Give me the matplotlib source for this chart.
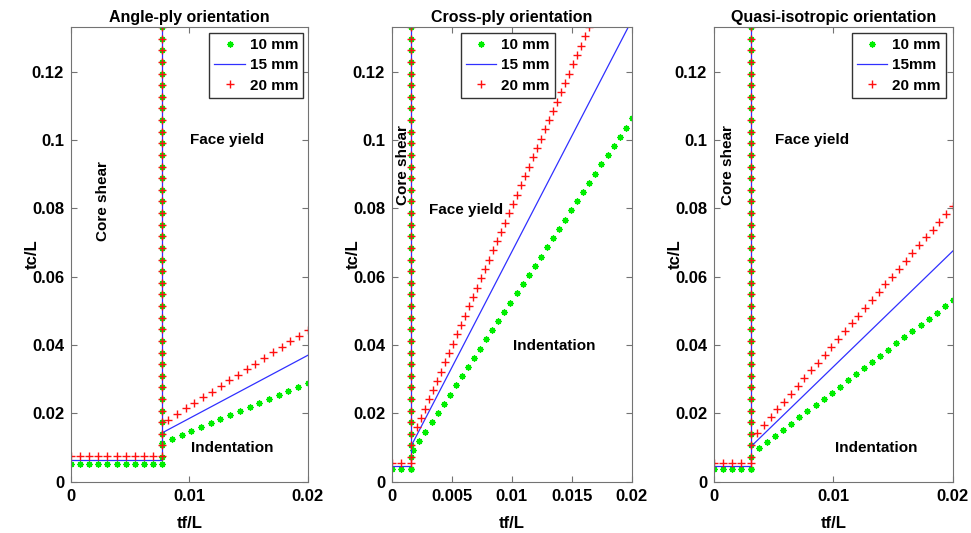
import numpy as np
import matplotlib
matplotlib.use('Agg')
import matplotlib.pyplot as plt

plt.rcParams.update({'font.family': 'Liberation Sans', 'font.weight': 'bold',
                     'font.size': 12})

# axis ranges
y_top = 0.133
x_max = 0.02
v_step = 0.0034  # marker spacing along the vertical boundary

titles = ['Angle-ply orientation', 'Cross-ply orientation', 'Quasi-isotropic orientation']
legend_labels = [['10 mm', '15 mm', '20 mm'], ['10 mm', '15 mm', '20 mm'], ['10 mm', '15mm', '20 mm']]
x_ticks = [[0, 0.01, 0.02], [0, 0.005, 0.01, 0.015, 0.02], [0, 0.01, 0.02]]
x_ticklabels = [['0', '0.01', '0.02'], ['0', '0.005', '0.01', '0.015', '0.02'], ['0', '0.01', '0.02']]
y_ticks = [0, 0.02, 0.04, 0.06, 0.08, 0.1, 0.12]
y_ticklabels = ['0', '0.02', '0.04', '0.06', '0.08', '0.1', '0.12']

# core shear / face yield boundary (tf/L)
x_vert = [0.0077, 0.00156, 0.00307]

# core shear plateau level (tc/L) for 10, 15, 20 mm
h_10 = [0.0051, 0.0036, 0.0036]
h_15 = [0.0063, 0.0046, 0.0046]
h_20 = [0.0076, 0.0056, 0.0056]
n_flat = [11, 3, 5]

# indentation / face yield boundary: start and end points, marker count
slope_10 = [[(0.0077, 0.0112), (0.02, 0.029)],
            [(0.00178, 0.0093), (0.02, 0.1063)],
            [(0.00377, 0.0098), (0.02, 0.0531)]]
n_slope_10 = [16, 37, 25]
slope_15 = [[(0.0077, 0.0143), (0.02, 0.037)],
            [(0.00156, 0.0102), (0.02, 0.135)],
            [(0.00307, 0.0102), (0.02, 0.0675)]]
slope_20 = [[(0.0082, 0.0182), (0.02, 0.0444)],
            [(0.00206, 0.0159), (0.0164, 0.133)],
            [(0.00362, 0.0143), (0.02, 0.0806)]]
n_slope_20 = [17, 44, 30]

# region labels (x, y)
core_pos = [(0.0027, 0.082), (0.0009, 0.0926), (0.0012, 0.0926)]
face_pos = [(0.0132, 0.100), (0.0062, 0.0794), (0.0082, 0.100)]
indent_pos = [(0.0136, 0.0098), (0.0135, 0.0397), (0.01356, 0.0098)]

# legend anchor (axes fraction, upper right corner)
leg_anchor = [(0.981, 0.987), (0.679, 0.987), (0.971, 0.987)]

ax_left = [0.0731, 0.4037, 0.7353]
ax_width = [0.244, 0.247, 0.246]

green = '#00ee00'
red = '#ff1010'
blue = '#3030ff'
star = (8, 2, 0)


def boundary(xv, h, p0, p1, n_h, n_s):
    # flat part, vertical part, sloped part
    xs_h = np.linspace(0, xv, n_h)
    ys_h = np.full(n_h, h)
    ys_v = np.arange(y_top, h, -v_step)
    xs_v = np.full(len(ys_v), xv)
    xs_s = np.linspace(p0[0], p1[0], n_s)
    ys_s = np.linspace(p0[1], p1[1], n_s)
    return np.r_[xs_h, xs_v, xs_s], np.r_[ys_h, ys_v, ys_s]


fig = plt.figure(figsize=(9.71, 5.33), dpi=100)

for i in range(3):
    ax = fig.add_axes([ax_left[i], 0.0962, ax_width[i], 0.853])

    x10, y10 = boundary(x_vert[i], h_10[i], *slope_10[i], n_flat[i], n_slope_10[i])
    ax.plot(x10, y10, linestyle='none', marker=star, ms=4.4, mew=1.0, color=green,
            label=legend_labels[i][0])

    p0, p1 = slope_15[i]
    ax.plot([0, x_vert[i], x_vert[i]], [h_15[i], h_15[i], y_top + 0.01], color=blue,
            lw=0.9, label=legend_labels[i][1])
    ax.plot([p0[0], p1[0]], [p0[1], p1[1]], color=blue, lw=0.9)

    x20, y20 = boundary(x_vert[i], h_20[i], *slope_20[i], n_flat[i], n_slope_20[i])
    ax.plot(x20, y20, linestyle='none', marker='+', ms=5.6, mew=1.0, color=red,
            label=legend_labels[i][2])

    ax.text(*core_pos[i], 'Core shear', rotation=90, ha='center', va='center', fontsize=11)
    ax.text(*face_pos[i], 'Face yield', ha='center', va='center', fontsize=11)
    ax.text(*indent_pos[i], 'Indentation', ha='center', va='center', fontsize=11)

    ax.set_xlim(0, x_max)
    ax.set_ylim(0, y_top)
    ax.set_xticks(x_ticks[i])
    ax.set_xticklabels(x_ticklabels[i])
    ax.set_yticks(y_ticks)
    ax.set_yticklabels(y_ticklabels)
    ax.tick_params(direction='in', top=True, right=True, length=4, color='0.45',
                   labelsize=12, pad=5)
    for s in ax.spines.values():
        s.set_color('0.45')
    ax.set_title(titles[i], fontsize=11.5, fontweight='bold', pad=4)
    ax.set_xlabel('tf/L', fontsize=12, fontweight='bold', labelpad=9)
    ax.set_ylabel('tc/L', fontsize=12, fontweight='bold', labelpad=-6)

    leg = ax.legend(loc='upper right', bbox_to_anchor=leg_anchor[i], borderaxespad=0,
                    numpoints=1, fancybox=False, framealpha=1, edgecolor='0.2',
                    prop={'size': 11, 'weight': 'bold'}, handletextpad=0.3,
                    labelspacing=0.4, borderpad=0.35)
    leg.get_frame().set_linewidth(1.0)

fig.savefig('out.png', dpi=100)
